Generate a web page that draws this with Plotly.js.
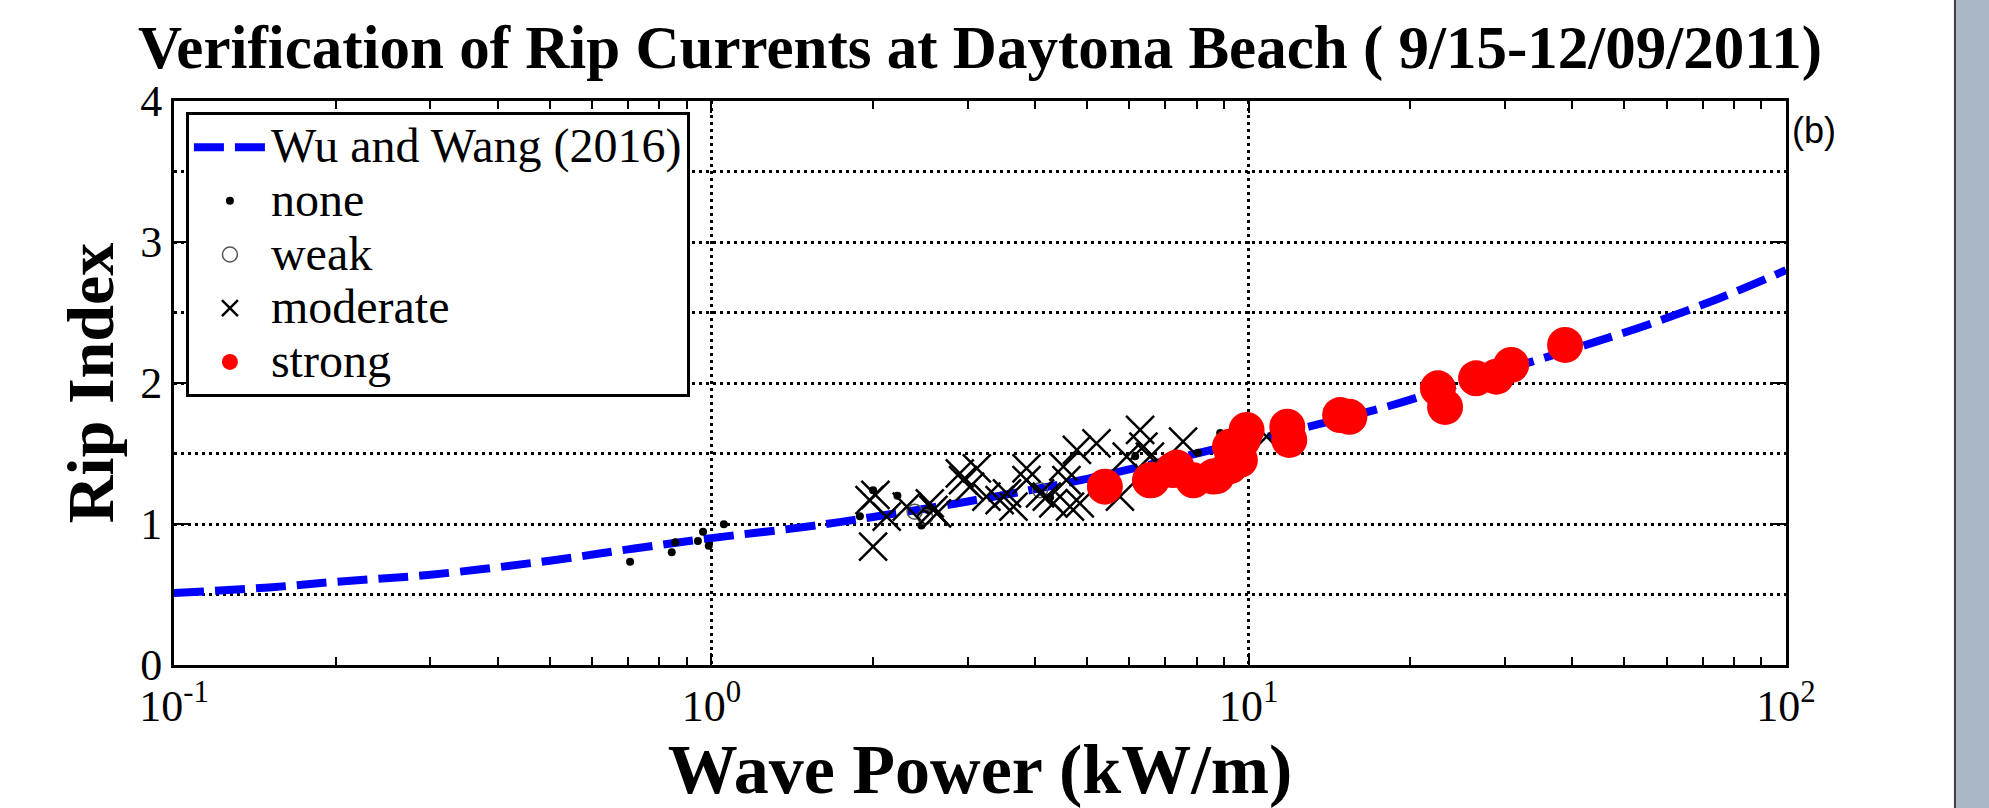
<!DOCTYPE html>
<html>
<head>
<meta charset="utf-8">
<script src="https://cdn.plot.ly/plotly-3.0.1.min.js"></script>
<style>html,body{margin:0;padding:0;background:#fff;}#chart{width:1989px;height:808px;}</style>
</head>
<body>
<div id="chart"></div>
<script>
// Wu and Wang (2016) curve
const curveX = [0.1, 0.15, 0.2, 0.3, 0.5, 0.7, 1, 1.5, 2, 3, 5, 8, 12, 18, 27, 40, 55, 75, 100];
const curveY = [0.51, 0.55, 0.59, 0.64, 0.74, 0.82, 0.90, 0.98, 1.05, 1.16, 1.32, 1.50, 1.66, 1.83, 2.04, 2.24, 2.41, 2.60, 2.80];

// observations
const noneX = [0.706, 0.844, 0.857, 0.944, 0.965, 0.989, 1.055, 1.89, 2.0, 2.22, 2.46, 2.53, 4.27, 6.15, 8.05, 8.85];
const noneY = [0.733, 0.80, 0.87, 0.88, 0.945, 0.845, 0.998, 1.055, 1.24, 1.20, 0.99, 1.10, 1.19, 1.48, 1.506, 1.645];

const weakX = [2.39, 2.50, 4.09];
const weakY = [1.087, 1.05, 1.24];

const modX = [1.97, 2.02, 2.00, 2.12, 2.31, 2.55, 2.59, 2.63, 2.90, 2.94, 3.03, 3.12, 3.25, 3.44, 3.55, 3.65, 3.86, 3.86,
              4.09, 4.21, 4.33, 4.52, 4.58, 4.65, 4.79, 4.85, 5.21, 5.76, 5.93, 6.28, 6.37, 6.55, 7.55, 10.8];
const modY = [1.17, 1.206, 0.839, 1.052, 1.123, 1.147, 1.10, 1.076, 1.359, 1.312, 1.265, 1.395, 1.194, 1.17, 1.217, 1.123, 1.395, 1.312,
              1.217, 1.194, 1.147, 1.407, 1.312, 1.123, 1.525, 1.147, 1.572, 1.194, 1.478, 1.667, 1.548, 1.478, 1.584, 1.62];

const strongX = [5.40, 6.55, 6.60, 7.23, 7.35, 7.89, 8.59, 8.72, 9.23, 9.23, 9.5, 9.63, 9.75, 9.91, 11.8, 11.9, 14.8, 15.4, 22.5, 23.2, 26.5, 28.9, 30.8, 38.8];
const strongY = [1.265, 1.31, 1.312, 1.383, 1.40, 1.31, 1.336, 1.34, 1.41, 1.548, 1.477, 1.454, 1.596, 1.667, 1.69, 1.596, 1.773, 1.76, 1.962, 1.83, 2.033, 2.045, 2.128, 2.27];

// axis ticks
const xTickVals = [0.1, 1, 10, 100];
const xTickText = ['10<sup>-1</sup>', '10<sup>0</sup>', '10<sup>1</sup>', '10<sup>2</sup>'];
const xMinorVals = [0.2,0.3,0.4,0.5,0.6,0.7,0.8,0.9, 2,3,4,5,6,7,8,9, 20,30,40,50,60,70,80,90];
const yTickVals = [0, 1, 2, 3, 4];
const yTickText = ['0', '1', '2', '3', '4'];

const serif = 'Liberation Serif, Times New Roman, serif';
const lg = (s) => '<span style="font-size:48px">' + s + '</span>';

const traces = [
  {x: curveX, y: curveY, type: 'scatter', mode: 'lines', name: lg('Wu and Wang (2016)'),
   line: {color: '#0000ff', width: 8, dash: '30px,11px', shape: 'spline'}},
  {x: noneX, y: noneY, type: 'scatter', mode: 'markers', name: lg('none'),
   marker: {symbol: 'circle', size: 8, color: '#000'}},
  {x: weakX, y: weakY, type: 'scatter', mode: 'markers', name: lg('weak'),
   marker: {symbol: 'circle-open', size: 15, color: '#555', line: {width: 1.5, color: '#555'}}},
  {x: modX, y: modY, type: 'scatter', mode: 'markers', name: lg('moderate'),
   marker: {symbol: 'x-thin-open', size: 28, color: '#000', line: {width: 2.5, color: '#000'}}},
  {x: strongX, y: strongY, type: 'scatter', mode: 'markers', name: lg('strong'),
   marker: {symbol: 'circle', size: 36, color: '#ff0000', line: {width: 0}}}
];

const layout = {
  width: 1989, height: 808,
  margin: {l: 174, r: 203, t: 101, b: 143, pad: 0},
  paper_bgcolor: '#fff', plot_bgcolor: '#fff',
  font: {family: serif, color: '#000'},
  showlegend: true,
  title: {text: '<b>Verification of Rip Currents at Daytona Beach ( 9/15-12/09/2011)</b>',
          font: {family: serif, size: 61, color: '#000'},
          x: 0.5, xref: 'paper', xanchor: 'center', y: 0.942, yref: 'container', yanchor: 'middle'},
  xaxis: {
    type: 'log', range: [-1, 2],
    tickmode: 'array', tickvals: xTickVals, ticktext: xTickText,
    ticks: 'inside', ticklen: 12, tickwidth: 2, tickcolor: '#000',
    tickfont: {family: serif, size: 44, color: '#000'},
    showline: true, linewidth: 3, linecolor: '#000', mirror: 'allticks',
    showgrid: true, gridcolor: '#000', gridwidth: 3, griddash: '3px,4px',
    minor: {tickmode: 'array', tickvals: xMinorVals, ticks: 'inside', ticklen: 8, tickwidth: 2, tickcolor: '#000', showgrid: false},
    zeroline: false,
    title: {text: '<b>Wave Power (kW/m)</b>', font: {family: serif, size: 70, color: '#000'}, standoff: 0}
  },
  yaxis: {
    range: [0, 4],
    tickmode: 'array', tickvals: yTickVals, ticktext: yTickText,
    ticks: 'inside', ticklen: 14, tickwidth: 2, tickcolor: '#000',
    tickfont: {family: serif, size: 44, color: '#000'},
    showline: true, linewidth: 3, linecolor: '#000', mirror: 'allticks',
    showgrid: true, gridcolor: '#000', gridwidth: 3, griddash: '3px,4px',
    minor: {dtick: 0.5, tick0: 0, ticks: '', showgrid: true, gridcolor: '#000', gridwidth: 3, griddash: '3px,4px'},
    zeroline: false,
    title: {text: '<b>Rip Index</b>', font: {family: serif, size: 66, color: '#000'}, standoff: 6}
  },
  legend: {
    x: 0.0074, y: 0.98, xanchor: 'left', yanchor: 'top',
    bgcolor: '#fff', bordercolor: '#000', borderwidth: 3,
    font: {family: serif, size: 39, color: '#000'},
    itemwidth: 72, tracegroupgap: 0, itemsizing: 'trace'
  },
  annotations: [
    {text: '(b)', xref: 'paper', yref: 'paper', x: 1.0025, y: 0.947, xanchor: 'left', yanchor: 'middle',
     showarrow: false, font: {family: 'Liberation Sans, Arial, sans-serif', size: 36, color: '#000'}}
  ],
  shapes: [
    {type: 'rect', xref: 'paper', yref: 'paper', x0: 1.1048, x1: 1.2, y0: -0.3, y1: 1.3,
     fillcolor: '#aab8c6', line: {color: '#3a3f45', width: 2}, layer: 'above'}
  ]
};

Plotly.newPlot('chart', traces, layout, {displayModeBar: false, staticPlot: true});
</script>
</body>
</html>
